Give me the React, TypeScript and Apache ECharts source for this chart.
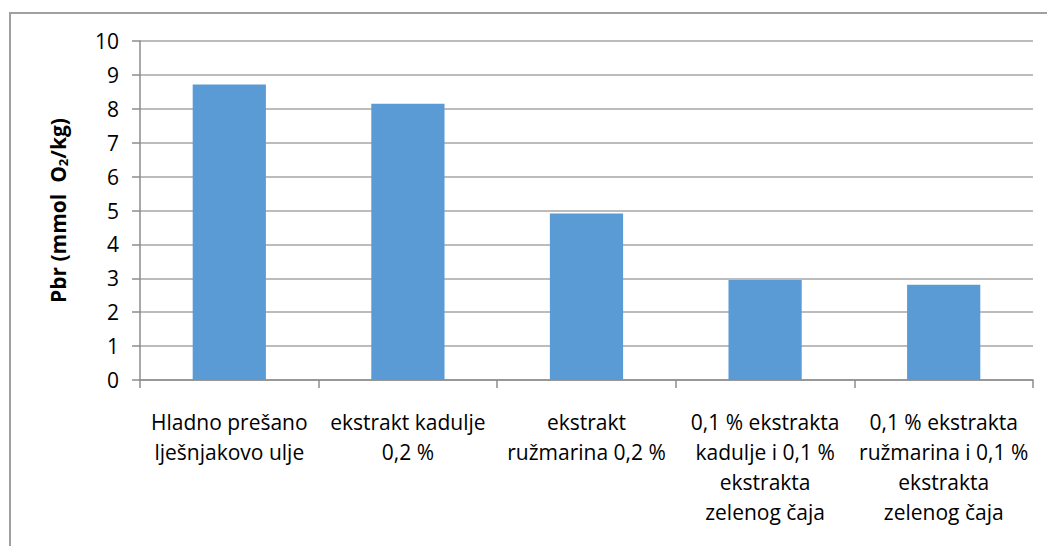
import React, { useEffect, useRef } from "react";
import * as echarts from "echarts";

const categories = [
  "Hladno prešano\nlješnjakovo ulje",
  "ekstrakt kadulje\n0,2 %",
  "ekstrakt\nružmarina 0,2 %",
  "0,1 % ekstrakta\nkadulje i 0,1 %\nekstrakta\nzelenog čaja",
  "0,1 % ekstrakta\nružmarina i 0,1 %\nekstrakta\nzelenog čaja",
];
const values = [8.72, 8.15, 4.91, 2.95, 2.81];
const yTicks = { min: 0, max: 10, interval: 1 };

const FONT = "'Open Sans', sans-serif";

export default function App() {
  const ref = useRef<HTMLDivElement>(null);
  useEffect(() => {
    if (!ref.current) return;
    const chart = echarts.init(ref.current, undefined, { renderer: "svg" });
    chart.setOption({
      animation: false,
      backgroundColor: "#ffffff",
      textStyle: { fontFamily: FONT },
      graphic: [
        {
          type: "rect",
          shape: { x: 10, y: 13, width: 1100, height: 600 },
          style: { fill: "none", stroke: "#a0a0a0", lineWidth: 2 },
          silent: true,
        },
      ],
      grid: { left: 140, right: 14, top: 41, bottom: 166, containLabel: false },
      xAxis: {
        type: "category",
        data: categories,
        boundaryGap: true,
        axisLine: { show: true, lineStyle: { color: "#8c8c8c", width: 1.5 } },
        axisTick: { show: true, length: 8, alignWithLabel: false, lineStyle: { color: "#8c8c8c", width: 1.5 } },
        axisLabel: {
          interval: 0,
          margin: 27,
          fontSize: 21,
          lineHeight: 30,
          color: "#000000",
          fontFamily: FONT,
          align: "center",
        },
        splitLine: { show: false },
      },
      yAxis: {
        type: "value",
        min: yTicks.min,
        max: yTicks.max,
        interval: yTicks.interval,
        name: "{a|Pbr (mmol  O}{s|2}{a|/kg)}",
        nameLocation: "middle",
        nameGap: 71,
        nameTextStyle: {
          rich: {
            a: { fontSize: 21, fontWeight: "bold", color: "#000", fontFamily: FONT },
            s: { fontSize: 13, fontWeight: "bold", color: "#000", fontFamily: FONT, verticalAlign: "bottom", padding: [10, 0, 0, 0] },
          },
        },
        axisLine: { show: true, lineStyle: { color: "#8c8c8c", width: 1.5 } },
        axisTick: { show: true, length: 8, lineStyle: { color: "#8c8c8c", width: 1.5 } },
        axisLabel: { margin: 21, fontSize: 21, color: "#000000", fontFamily: FONT },
        splitLine: { show: true, lineStyle: { color: "#a6a6a6", width: 1.5 } },
      },
      series: [
        {
          type: "bar",
          data: values,
          barWidth: "41%",
          itemStyle: { color: "#5b9bd5" },
        },
      ],
    });
    return () => chart.dispose();
  }, []);
  return (
    <div
      ref={ref}
      style={{ position: "fixed", left: 0, top: 0, width: 1047, height: 546 }}
    />
  );
}
